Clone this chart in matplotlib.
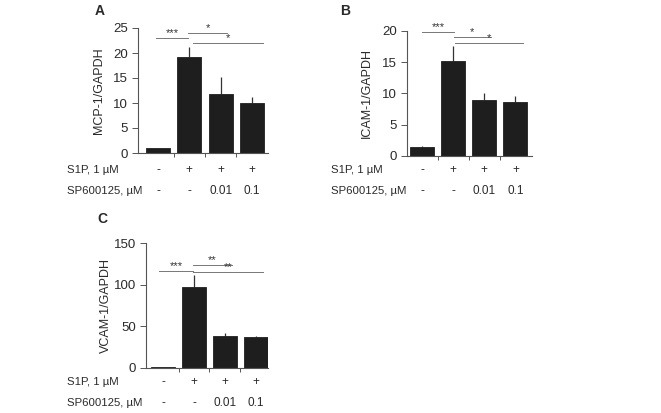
import matplotlib
matplotlib.use("Agg")
import matplotlib.pyplot as plt
from matplotlib.transforms import blended_transform_factory

plt.rcParams['font.family'] = ['Liberation Sans', 'DejaVu Sans']

W, H = 661, 413
fig = plt.figure(figsize=(W / 100, H / 100), dpi=100)

s1p_labels = ['-', '+', '+', '+']
sp_labels = ['-', '-', '0.01', '0.1']

mcp_vals = [1.0, 19.2, 11.8, 10.0]
mcp_err = [0.0, 2.1, 3.4, 1.3]
icam_vals = [1.4, 15.2, 8.9, 8.6]
icam_err = [0.2, 2.4, 1.2, 1.0]
vcam_vals = [1.0, 97, 38.5, 37]
vcam_err = [0.0, 15, 3.5, 1.0]

# (x_start, x_end, y, label)
mcp_sig = [(-0.06, 0.96, 23.0, '***'), (0.96, 2.2, 24.0, '*'), (1.12, 3.35, 22.0, '*')]
icam_sig = [(0.0, 1.02, 19.8, '***'), (1.02, 2.2, 19.0, '*'), (1.06, 3.25, 18.1, '*')]
vcam_sig = [(-0.13, 0.97, 116, '***'), (0.97, 2.23, 124, '**'), (0.97, 3.23, 115, '**')]

TXT = '#2a2a2a'


def make_axes(left, right, top, bottom):
    return fig.add_axes([left / W, 1 - bottom / H, (right - left) / W, (bottom - top) / H])


def panel(ax, left_px, width_px, vals, errs, sig, ylim, yticks, ylabel, xlim, letter, letter_xy,
          ylab_x, row_x, row_y1, row_y2):
    x = list(range(len(vals)))
    ax.bar(x, vals, width=0.77, color='#1e1e1e', edgecolor='#1e1e1e', linewidth=0.6, zorder=2)
    for xi, v, e in zip(x, vals, errs):
        if e > 0:
            ax.vlines(xi, v, v + e, color='#333333', linewidth=0.9, zorder=1)
    ax.set_xlim(*xlim)
    ax.set_ylim(*ylim)
    ax.set_yticks(yticks)
    ax.set_xticks([0.5, 1.5, 2.5])
    ax.set_xticklabels([])
    ax.tick_params(axis='x', length=3, width=0.7, color='#555555')
    ax.tick_params(axis='y', length=4, width=0.7, color='#555555', labelsize=9.5, pad=3,
                   labelcolor=TXT)
    for s in ['top', 'right']:
        ax.spines[s].set_visible(False)
    for s in ['left', 'bottom']:
        ax.spines[s].set_color('#555555')
        ax.spines[s].set_linewidth(0.8)
    for x0, x1, y, lab in sig:
        ax.plot([x0, x1], [y, y], color='#777777', linewidth=0.7, clip_on=False)
        ax.text((x0 + x1) / 2, y, lab, ha='center', va='bottom', fontsize=8, color='#333333')
    ax.set_ylabel(ylabel, fontsize=9, color=TXT)
    ax.yaxis.set_label_coords((ylab_x - left_px) / width_px, 0.5)
    fig.text(letter_xy[0] / W, 1 - letter_xy[1] / H, letter, fontsize=10, fontweight='bold',
             ha='center', va='center', color=TXT)
    tr = blended_transform_factory(ax.transData, fig.transFigure)
    fig.text(row_x / W, 1 - row_y1 / H, 'S1P, 1 µM', fontsize=8.2, ha='left', va='center',
             color=TXT)
    fig.text(row_x / W, 1 - row_y2 / H, 'SP600125, µM', fontsize=8.2, ha='left', va='center',
             color=TXT)
    for xi, a, b in zip(x, s1p_labels, sp_labels):
        ax.text(xi, 1 - row_y1 / H, a, transform=tr, fontsize=8.5, ha='center', va='center',
                color=TXT)
        ax.text(xi, 1 - row_y2 / H, b, transform=tr, fontsize=8.5, ha='center', va='center',
                color=TXT)


axA = make_axes(138, 268, 28, 153)
axB = make_axes(407, 532, 31, 156)
axC = make_axes(146, 268, 243, 368)

panel(axA, 138, 130, mcp_vals, mcp_err, mcp_sig, (0, 25), [0, 5, 10, 15, 20, 25], 'MCP-1/GAPDH',
      (-0.64, 3.51), 'A', (100, 11), 105, 67, 170, 191)
panel(axB, 407, 125, icam_vals, icam_err, icam_sig, (0, 20), [0, 5, 10, 15, 20], 'ICAM-1/GAPDH',
      (-0.48, 3.53), 'B', (345, 11), 373, 331, 170, 191)
panel(axC, 146, 122, vcam_vals, vcam_err, vcam_sig, (0, 150), [0, 50, 100, 150], 'VCAM-1/GAPDH',
      (-0.55, 3.39), 'C', (102, 219), 112, 67, 382, 403)

fig.savefig('out.png', dpi=100)
